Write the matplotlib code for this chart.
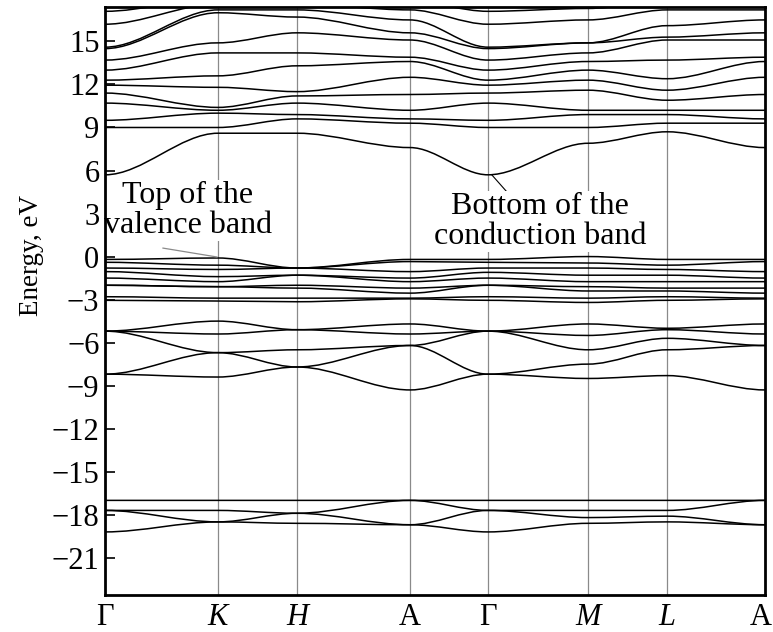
import matplotlib
matplotlib.use("Agg")
import matplotlib.pyplot as plt
from matplotlib.path import Path
from matplotlib.patches import PathPatch
from matplotlib.transforms import offset_copy

plt.rcParams["font.family"] = ["Liberation Serif", "DejaVu Serif"]

# High-symmetry points along the k-path and their cumulative distances
kpoint_labels = ["Γ", "K", "H", "A", "Γ", "M", "L", "A"]
kpoint_italic = [False, True, True, False, False, True, True, False]
kpoint_dist = [0.0, 1.13, 1.92, 3.05, 3.83, 4.83, 5.62, 6.60]

# Band energies (eV) at the high-symmetry points, in path order
# Deep bands around -18 eV
deep_bands = [
    [-17.0, -17.0, -17.0, -17.0, -17.0, -17.0, -17.0, -17.0],
    [-17.7, -17.7, -17.9, -17.0, -17.7, -17.7, -17.7, -17.0],
    [-17.7, -18.5, -17.9, -18.7, -17.7, -18.2, -18.1, -18.7],
    [-19.2, -18.5, -18.6, -18.7, -19.2, -18.6, -18.5, -18.7],
]
# Middle valence bands (-4.5 ... -9.5 eV)
mid_bands = [
    [-5.2, -4.5, -5.1, -4.7, -5.2, -4.7, -5.0, -4.7],
    [-5.2, -5.4, -5.1, -5.4, -5.2, -5.5, -5.1, -5.4],
    [-5.2, -6.7, -6.5, -6.2, -5.2, -6.5, -5.7, -6.2],
    [-8.2, -6.7, -7.7, -6.2, -8.2, -7.5, -6.5, -6.2],
    [-8.2, -8.4, -7.7, -9.3, -8.2, -8.5, -8.3, -9.3],
]
# Upper valence bands (0 ... -3.5 eV)
upper_bands = [
    [-0.2, -0.1, -0.8, -0.2, -0.2, 0.0, -0.2, -0.2],
    [-0.4, -0.6, -0.8, -0.35, -0.4, -0.45, -0.6, -0.35],
    [-0.8, -0.9, -0.8, -1.05, -0.8, -0.8, -0.9, -1.05],
    [-1.05, -1.4, -1.3, -1.5, -1.1, -1.3, -1.3, -1.5],
    [-1.5, -1.75, -1.3, -1.75, -1.5, -1.75, -1.75, -1.75],
    [-2.0, -2.1, -2.0, -2.2, -2.0, -2.1, -2.2, -2.2],
    [-2.0, -2.1, -2.2, -2.55, -2.0, -2.4, -2.4, -2.55],
    [-2.8, -2.9, -2.9, -2.9, -2.8, -2.9, -2.8, -2.9],
    [-3.05, -3.1, -3.15, -2.95, -3.05, -3.2, -3.05, -2.95],
]
# Conduction bands
cond_bands = [
    [5.7, 8.6, 8.6, 7.6, 5.7, 7.9, 8.7, 7.6],
    [9.0, 9.0, 9.6, 9.3, 9.0, 9.0, 9.3, 9.3],
    [9.5, 10.0, 9.9, 9.6, 9.5, 9.9, 9.9, 9.6],
    [10.7, 10.2, 10.7, 10.2, 10.7, 10.2, 10.2, 10.2],
    [11.4, 10.4, 11.2, 11.3, 11.4, 11.6, 10.9, 11.3],
    [11.95, 11.8, 11.5, 12.5, 11.95, 12.3, 11.6, 12.5],
    [12.3, 12.6, 13.3, 13.6, 12.3, 13.0, 12.4, 13.6],
    [13.0, 14.2, 14.2, 13.9, 13.0, 13.6, 13.7, 13.9],
    [13.7, 14.9, 15.6, 15.1, 13.7, 14.2, 15.1, 15.1],
    [14.5, 17.0, 16.7, 15.6, 14.5, 14.9, 15.3, 15.6],
    [14.6, 17.2, 17.2, 16.5, 14.6, 14.9, 16.1, 16.5],
    [16.2, 17.6, 17.6, 17.2, 16.2, 16.5, 17.2, 17.2],
    [17.1, 18.0, 18.0, 17.8, 17.1, 17.3, 17.8, 17.8],
]

ytick_values = list(range(15, -22, -3))


def band_path(xs, ys):
    """Smooth band curve with flat tangents at the high-symmetry points."""
    verts = [(xs[0], ys[0])]
    codes = [Path.MOVETO]
    for i in range(len(xs) - 1):
        h = xs[i + 1] - xs[i]
        verts += [(xs[i] + h / 3, ys[i]), (xs[i + 1] - h / 3, ys[i + 1]),
                  (xs[i + 1], ys[i + 1])]
        codes += [Path.CURVE4] * 3
    return Path(verts, codes)


fig = plt.figure(figsize=(7.73, 6.32), dpi=100)
ax = fig.add_axes([0.1358, 0.0585, 0.8539, 0.9304])

for group in (deep_bands, mid_bands, upper_bands, cond_bands):
    for band in group:
        ax.add_patch(PathPatch(band_path(kpoint_dist, band), fill=False,
                               edgecolor="black", linewidth=1.1, zorder=2))

for xk in kpoint_dist[1:-1]:
    ax.axvline(xk, color="#8a8a8a", linewidth=0.9, zorder=1)

ax.set_xlim(kpoint_dist[0], kpoint_dist[-1])
ax.set_ylim(-23.6, 17.4)

ax.set_yticks(ytick_values)
ax.set_yticklabels([str(v).replace("-", "\u2212") for v in ytick_values])
ax.tick_params(axis="y", direction="in", length=7, width=1.2,
               labelsize=22, pad=4, right=False)
ax.set_xticks(kpoint_dist)
ax.set_xticklabels(kpoint_labels)
ax.tick_params(axis="x", length=0, labelsize=22, pad=5.5)
xlabels = ax.get_xticklabels()
for lab, it in zip(xlabels, kpoint_italic):
    lab.set_fontstyle("italic" if it else "normal")
# keep the last label inside the canvas
xlabels[-1].set_transform(offset_copy(xlabels[-1].get_transform(), fig=fig,
                                      x=-4, y=0, units="dots"))

ax.set_ylabel("Energy, eV", fontsize=19.5)
ax.yaxis.set_label_coords(-0.092, 0.578)

for sp in ax.spines.values():
    sp.set_linewidth(2.0)
    sp.set_zorder(5)

# Annotations
ax.plot([0.58, 1.12], [0.59, -0.03], color="#8a8a8a", linewidth=0.9, zorder=3)
ax.plot([3.87, 4.02], [5.68, 4.5], color="black", linewidth=0.8, zorder=3)
ax.text(0.83, 3.2, "Top of the\nvalence band", ha="center", va="center",
        fontsize=23, linespacing=1.05, zorder=4,
        bbox=dict(facecolor="white", edgecolor="none", pad=0.5))
ax.text(4.35, 2.45, "Bottom of the\nconduction band", ha="center", va="center",
        fontsize=23, linespacing=1.05, zorder=4,
        bbox=dict(facecolor="white", edgecolor="none", pad=0.5))

fig.savefig("out.png", dpi=100)
